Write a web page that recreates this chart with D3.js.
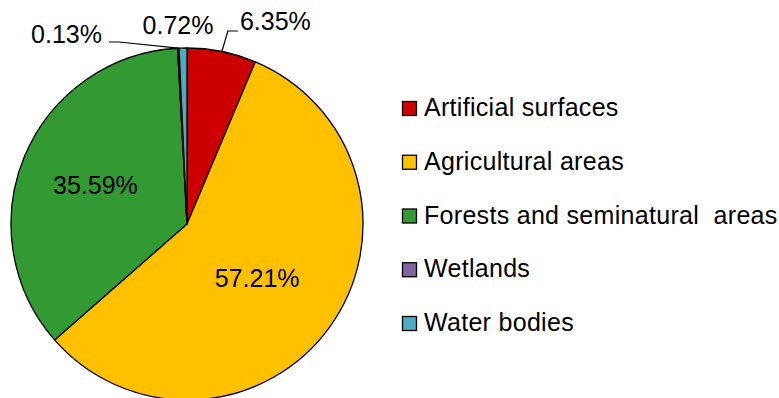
<!DOCTYPE html>
<html>
<head>
<meta charset="utf-8">
<script src="https://cdn.jsdelivr.net/npm/d3@7/dist/d3.min.js"></script>
<style>
  html, body { margin: 0; padding: 0; background: #fff; }
  svg { display: block; font-family: "Liberation Sans", Arial, sans-serif; }
</style>
</head>
<body>
<svg id="chart" width="779" height="398"></svg>
<script>
// Land cover shares (%)
const categories = ["Artificial surfaces", "Agricultural areas", "Forests and seminatural  areas", "Wetlands", "Water bodies"];
const shares = [6.35, 57.21, 35.59, 0.13, 0.72];
const labels = ["6.35%", "57.21%", "35.59%", "0.13%", "0.72%"];
const colors = ["#CC0000", "#FFC000", "#339933", "#8064A2", "#4BACC6"];

const svg = d3.select("#chart");
const cx = 187, cy = 224, R = 176;

const data = categories.map((c, i) => ({ name: c, value: shares[i], label: labels[i], color: colors[i] }));

const pie = d3.pie().sort(null).value(d => d.value);
const arcs = pie(data);
const arc = d3.arc().innerRadius(0).outerRadius(R);

const g = svg.append("g").attr("transform", `translate(${cx},${cy})`);

g.selectAll("path.slice")
  .data(arcs)
  .enter().append("path")
  .attr("class", "slice")
  .attr("d", arc)
  .attr("fill", d => d.data.color)
  .attr("stroke", "#000")
  .attr("stroke-width", 1.3)
  .attr("stroke-linejoin", "round");

// Point on the rim at the middle of a slice
function rim(d, r) {
  const a = (d.startAngle + d.endAngle) / 2;
  return [r * Math.sin(a), -r * Math.cos(a)];
}

const fontSize = 25;

// Large slices: label inside
const inside = { 1: 0.52, 2: 0.565 };
arcs.forEach((d, i) => {
  if (inside[i] === undefined) return;
  const [x, y] = rim(d, R * inside[i]);
  g.append("text")
    .attr("x", i === 1 ? x - 4 : x)
    .attr("y", y + 9)
    .attr("text-anchor", "middle")
    .attr("font-size", fontSize)
    .attr("fill", "#000")
    .text(d.data.label);
});

// Small slices: label outside, some with leader lines
const line = d3.line();
{
  // Artificial surfaces
  const d = arcs[0];
  const [x0, y0] = rim(d, R);
  const p1 = [x0 + 6, -193];
  const p2 = [p1[0] + 10, -193];
  g.append("path").attr("d", line([[x0, y0], p1, p2]))
    .attr("fill", "none").attr("stroke", "#000").attr("stroke-width", 1.2);
  g.append("text").attr("x", p2[0] + 2).attr("y", -194)
    .attr("font-size", fontSize).attr("text-anchor", "start").text(d.data.label);
}
{
  // Wetlands
  const d = arcs[3];
  const [x0, y0] = rim(d, R);
  const p1 = [-68, -182];
  const p2 = [-78, -182];
  g.append("path").attr("d", line([[x0, y0], p1, p2]))
    .attr("fill", "none").attr("stroke", "#000").attr("stroke-width", 1.2);
  g.append("text").attr("x", p2[0] - 7).attr("y", -181)
    .attr("font-size", fontSize).attr("text-anchor", "end").text(d.data.label);
}
{
  // Water bodies
  const d = arcs[4];
  const [x0] = rim(d, R);
  g.append("text").attr("x", x0 - 5).attr("y", -190)
    .attr("font-size", fontSize).attr("text-anchor", "middle").text(d.data.label);
}

// Legend
const legendY = d3.scalePoint().domain(categories).range([116, 331]);
const lg = svg.append("g");
const items = lg.selectAll("g.item").data(data).enter().append("g").attr("class", "item")
  .attr("transform", d => `translate(402,${legendY(d.name)})`);
items.append("rect")
  .attr("x", 0.5).attr("y", -14.5).attr("width", 14).attr("height", 14)
  .attr("fill", d => d.color).attr("stroke", "#000").attr("stroke-width", 1.3);
items.append("text")
  .attr("x", 22).attr("y", 0)
  .attr("font-size", fontSize)
  .attr("letter-spacing", 0.3)
  .attr("xml:space", "preserve")
  .style("white-space", "pre")
  .text(d => d.name);
</script>
</body>
</html>
